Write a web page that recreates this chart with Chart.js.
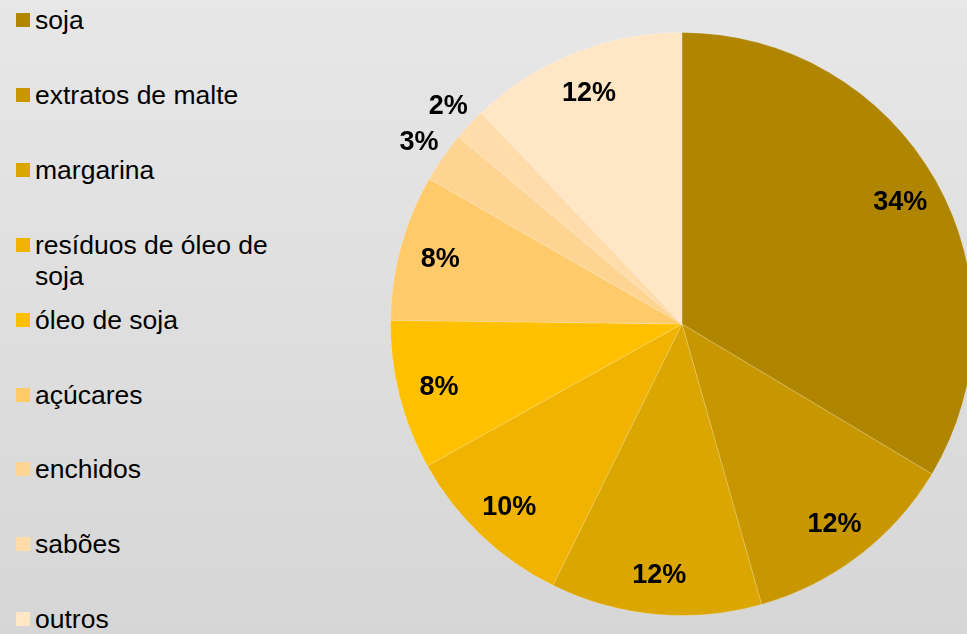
<!DOCTYPE html>
<html>
<head>
<meta charset="utf-8">
<script src="https://cdn.jsdelivr.net/npm/chart.js@4/dist/chart.umd.min.js"></script>
<style>
    html, body {
        margin: 0;
        padding: 0;
        width: 967px;
        height: 634px;
        overflow: hidden;
    }
    body {
        position: relative;
        background: linear-gradient(to bottom, #e7e7e7, #d6d6d6);
        font-family: "Liberation Sans", Arial, sans-serif;
    }
    #legend {
        position: absolute;
        left: 0;
        top: 0;
    }
    .item {
        position: absolute;
        left: 35px;
        width: 255px;
        font-size: 26.5px;
        line-height: 31px;
        color: #000;
    }
    .item .box {
        position: absolute;
        left: -19px;
        top: 8px;
        width: 14px;
        height: 14px;
    }
    #chartWrap {
        position: absolute;
        left: 390px;
        top: 32px;
        width: 584px;
        height: 584px;
    }
</style>
</head>
<body>
<div id="legend"></div>
<div id="chartWrap"><canvas id="pieChart"></canvas></div>
<script>
// categorias e valores (%)
const categories = ['soja', 'extratos de malte', 'margarina', 'resíduos de óleo de soja', 'óleo de soja', 'açúcares', 'enchidos', 'sabões', 'outros'];
const shares = [33.6, 12.0, 11.7, 9.6, 8.3, 8.1, 2.8, 1.8, 12.1];
const sliceColors = ['#b08500', '#c89700', '#dca600', '#efb300', '#ffc000', '#ffca6a', '#fed492', '#ffdcaa', '#ffe6c5'];

// legenda à esquerda
function buildLegend() {
    const legend = document.getElementById('legend');
    categories.forEach((name, i) => {
        const item = document.createElement('div');
        item.className = 'item';
        item.style.top = (5 + i * 74.9) + 'px';
        item.innerHTML = `<span class="box" style="background:${sliceColors[i]}"></span>${name}`;
        legend.appendChild(item);
    });
}

// rótulos de percentagem dentro / fora das fatias
const pctLabels = {
    id: 'pctLabels',
    afterDatasetsDraw(chart) {
        const ctx = chart.ctx;
        const meta = chart.getDatasetMeta(0);
        ctx.save();
        ctx.font = 'bold 27px "Liberation Sans", Arial, sans-serif';
        ctx.fillStyle = '#000';
        ctx.textAlign = 'center';
        ctx.textBaseline = 'middle';
        meta.data.forEach((arc, i) => {
            const mid = (arc.startAngle + arc.endAngle) / 2;
            const dist = shares[i] < 5 ? arc.outerRadius * 1.1 : arc.outerRadius * 0.86;
            const x = arc.x + Math.cos(mid) * dist;
            const y = arc.y + Math.sin(mid) * dist + 2;
            ctx.fillText(Math.round(shares[i]) + '%', x, y);
        });
        ctx.restore();
    }
};

buildLegend();

new Chart(document.getElementById('pieChart').getContext('2d'), {
    type: 'pie',
    data: {
        labels: categories,
        datasets: [{
            data: shares,
            backgroundColor: sliceColors,
            borderColor: 'rgba(255,255,255,0.18)',
            borderWidth: 1
        }]
    },
    options: {
        responsive: true,
        maintainAspectRatio: false,
        animation: false,
        layout: { padding: 0 },
        plugins: {
            legend: { display: false },
            tooltip: { enabled: false }
        }
    },
    plugins: [pctLabels]
});
</script>
</body>
</html>
